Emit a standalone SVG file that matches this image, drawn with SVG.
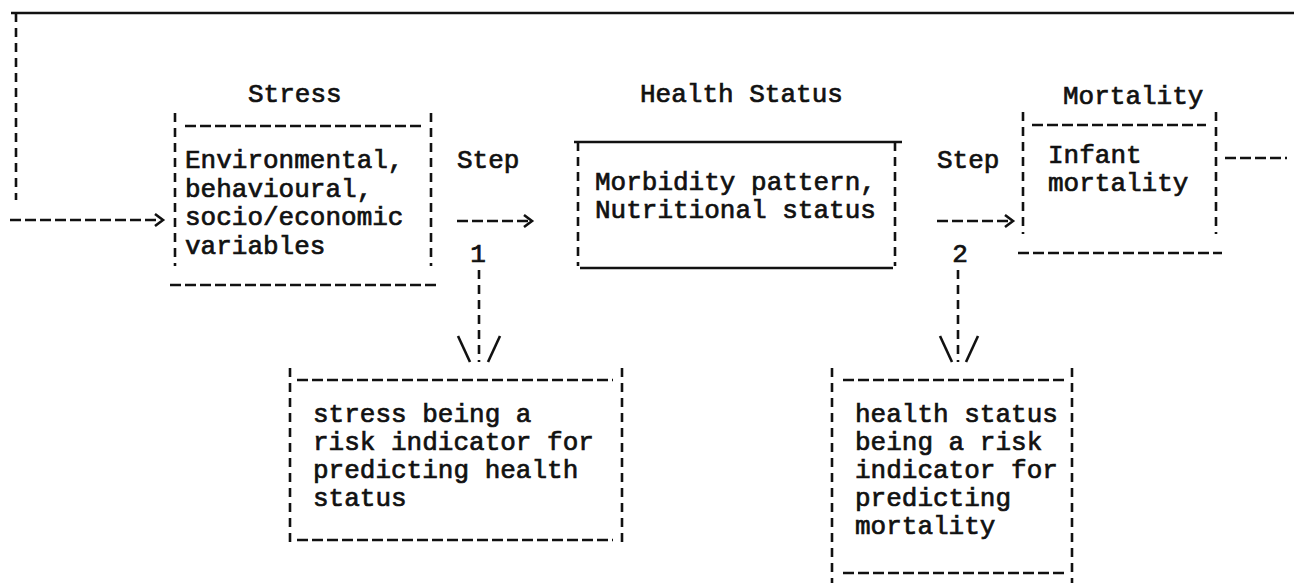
<svg xmlns="http://www.w3.org/2000/svg" width="1294" height="583" viewBox="0 0 1294 583">
<style>
text{font-family:"Liberation Mono","DejaVu Sans Mono",monospace;font-size:26px;font-weight:normal;fill:#111;stroke:#111;stroke-width:0.7}
.h{stroke:#111;stroke-width:2.6;stroke-dasharray:11 4;fill:none}
.v{stroke:#111;stroke-width:2.6;stroke-dasharray:9 6;fill:none}
.s{stroke:#111;stroke-width:2.6;fill:none}
.c{stroke:#111;stroke-width:2.6;fill:none;stroke-linejoin:miter}
</style>
<rect width="1294" height="583" fill="#fff"/>
<g id="stress">
<text x="248" y="102">Stress</text>
<line class="v" x1="175" y1="113" x2="175" y2="266"/>
<line class="v" x1="431" y1="113" x2="431" y2="266"/>
<line class="h" x1="185" y1="126" x2="422" y2="126"/>
<line class="h" x1="170" y1="285" x2="437" y2="285"/>
<text x="185" y="168">Environmental,</text>
<text x="185" y="197">behavioural,</text>
<text x="185" y="225">socio/economic</text>
<text x="185" y="254">variables</text>
</g>
<g id="health">
<text x="640" y="102">Health Status</text>
<line class="s" x1="574" y1="142" x2="902" y2="142"/>
<line class="v" x1="578" y1="142" x2="578" y2="266"/>
<line class="v" x1="895" y1="142" x2="895" y2="266"/>
<line class="s" x1="580" y1="268" x2="893" y2="268"/>
<text x="595" y="190">Morbidity pattern,</text>
<text x="595" y="218">Nutritional status</text>
</g>
<g id="mortality">
<text x="1063" y="104">Mortality</text>
<line class="v" x1="1023" y1="112" x2="1023" y2="234"/>
<line class="v" x1="1216" y1="112" x2="1216" y2="234"/>
<line class="h" x1="1032" y1="125" x2="1206" y2="125"/>
<line class="h" x1="1018" y1="253" x2="1222" y2="253"/>
<text x="1048" y="163">Infant</text>
<text x="1048" y="191">mortality</text>
</g>
<g id="indicator1">
<line class="v" x1="290" y1="368" x2="290" y2="548"/>
<line class="v" x1="622" y1="368" x2="622" y2="548"/>
<line class="h" x1="297" y1="380" x2="613" y2="380"/>
<line class="h" x1="297" y1="540" x2="613" y2="540"/>
<text x="313" y="422">stress being a</text>
<text x="313" y="450">risk indicator for</text>
<text x="313" y="478">predicting health</text>
<text x="313" y="506">status</text>
</g>
<g id="indicator2">
<line class="v" x1="832" y1="368" x2="832" y2="583"/>
<line class="v" x1="1072" y1="368" x2="1072" y2="583"/>
<line class="h" x1="843" y1="380" x2="1064" y2="380"/>
<line class="h" x1="843" y1="573" x2="1064" y2="573"/>
<text x="855" y="422">health status</text>
<text x="855" y="450">being a risk</text>
<text x="855" y="478">indicator for</text>
<text x="855" y="506">predicting</text>
<text x="855" y="534">mortality</text>
</g>
<g id="steps">
<text x="457" y="168">Step</text>
<text x="478" y="262" text-anchor="middle">1</text>
<text x="937" y="168">Step</text>
<text x="960" y="262" text-anchor="middle">2</text>
</g>
<g id="connectors">
<line class="s" x1="11" y1="13" x2="1294" y2="13"/>
<line class="v" x1="16" y1="13" x2="16" y2="200"/>
<line class="h" x1="10" y1="220" x2="160" y2="220"/>
<polyline class="c" points="155,214 163,220 155,226"/>
<line class="h" x1="457" y1="221" x2="528" y2="221"/>
<polyline class="c" points="524,215 532,221 524,227"/>
<line class="h" x1="937" y1="221" x2="1008" y2="221"/>
<polyline class="c" points="1005,215 1013,221 1005,227"/>
<line class="h" x1="1225" y1="158" x2="1287" y2="158"/>
<line class="v" x1="479" y1="270" x2="479" y2="362"/>
<line class="s" x1="458" y1="336" x2="470" y2="362"/>
<line class="s" x1="500" y1="336" x2="488" y2="362"/>
<line class="v" x1="958" y1="270" x2="958" y2="362"/>
<line class="s" x1="940" y1="336" x2="952" y2="362"/>
<line class="s" x1="978" y1="336" x2="966" y2="362"/>
</g>
</svg>
